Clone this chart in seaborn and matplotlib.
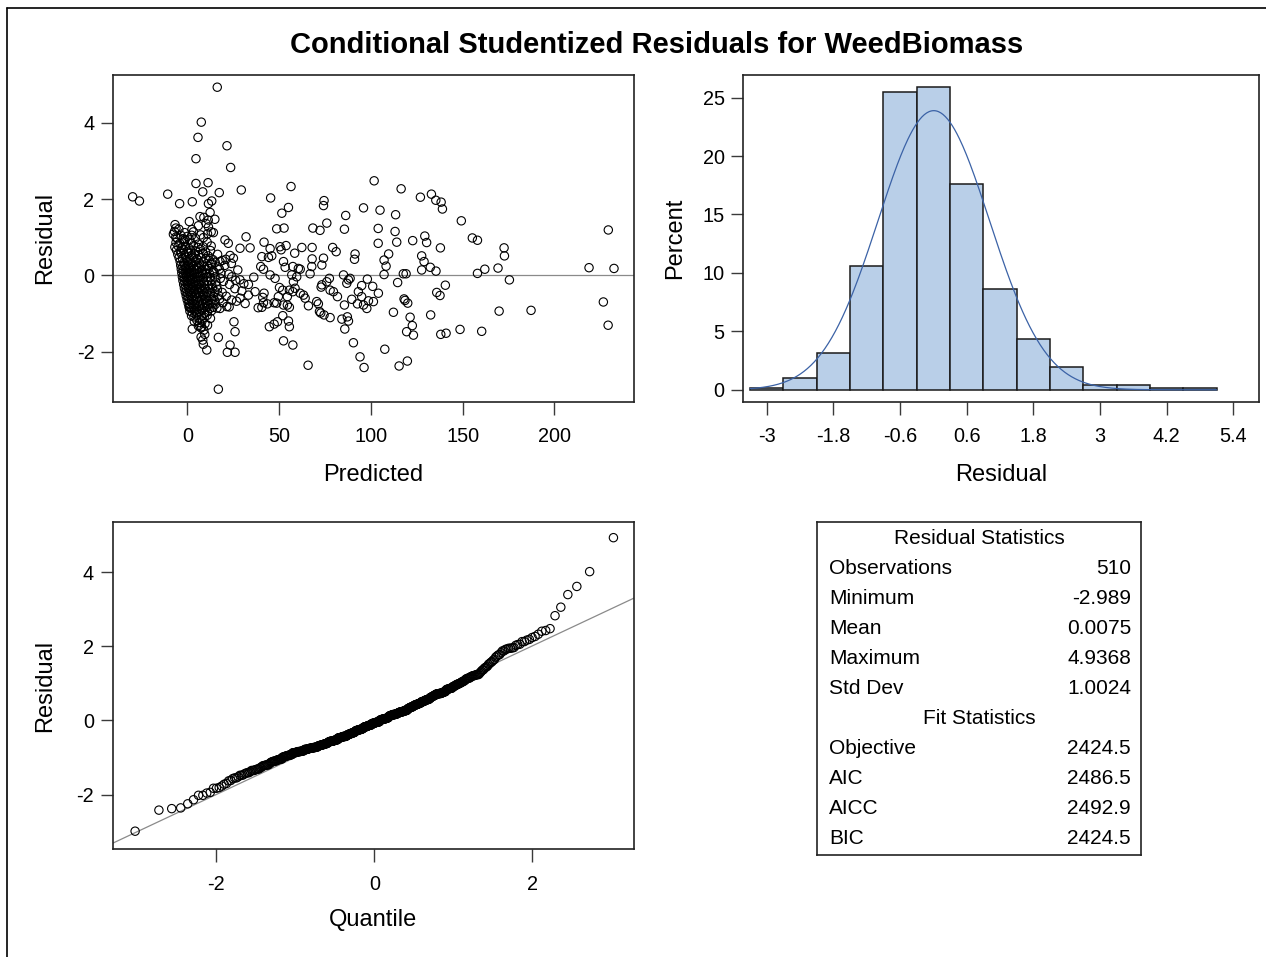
import matplotlib
matplotlib.use("Agg")
import numpy as np
import pandas as pd
import matplotlib.pyplot as plt
from matplotlib import font_manager
from matplotlib.lines import Line2D
import seaborn as sns
from statistics import NormalDist

# ---------------------------------------------------------------------------
# Conditional studentized residuals: (predicted value, residual) pairs
# ---------------------------------------------------------------------------
upper_tail = [
    (16.3, 4.9368), (7.6, 4.02), (5.8, 3.62), (21.6, 3.40), (4.7, 3.06), (23.6, 2.83),
    (4.7, 2.41), (11.3, 2.43), (8.4, 2.19), (17.4, 2.17), (29.4, 2.24), (-10.7, 2.13),
    (56.5, 2.33), (101.8, 2.48), (116.5, 2.27), (133.0, 2.13),
    (-29.8, 2.06), (-26.1, 1.95), (-4.2, 1.88), (2.7, 1.93), (11.5, 1.88), (13.3, 1.95),
    (45.4, 2.03), (12.4, 1.65), (6.9, 1.54), (74.5, 1.96), (74.2, 1.83), (55.1, 1.78),
    (51.5, 1.63), (96.0, 1.77), (86.3, 1.57), (105.0, 1.71), (127.0, 2.05), (135.4, 1.97),
    (138.3, 1.92), (139.0, 1.74), (113.5, 1.59), (9.0, 1.52),
]

spread_upper = [
    (11.4, 1.45), (15.0, 1.47), (1.1, 1.41), (-6.7, 1.33), (-6.2, 1.24), (-7.6, 1.08),
    (-6.3, 1.00), (11.5, 1.27), (13.0, 1.14), (11.0, 1.09), (3.3, 1.14), (2.4, 1.05),
    (-1.2, 0.94), (20.5, 0.93), (32.0, 1.01), (48.7, 1.22), (52.7, 1.24), (68.4, 1.24),
    (72.3, 1.18), (76.0, 1.37), (85.6, 1.21), (104.0, 1.23), (113.2, 1.15), (122.8, 0.91),
    (129.4, 1.03), (149.3, 1.43), (155.3, 0.98), (158.1, 0.92), (229.4, 1.19),
    (22.3, 0.84), (28.7, 0.71), (34.2, 0.72), (23.3, 0.52), (25.1, 0.45), (13.3, 0.32),
    (17.8, 0.36), (19.0, 0.39), (21.0, 0.42), (24.0, 0.31), (41.8, 0.87), (45.1, 0.70),
    (50.5, 0.75), (51.1, 0.67), (53.8, 0.78), (62.4, 0.73), (68.0, 0.73), (79.2, 0.73),
    (81.1, 0.62), (91.4, 0.56), (91.1, 0.42), (104.0, 0.84), (40.6, 0.49), (44.2, 0.47),
    (46.0, 0.51), (58.5, 0.58), (68.0, 0.43), (74.2, 0.45), (52.4, 0.36), (114.1, 0.87),
    (130.4, 0.86), (172.6, 0.72), (172.8, 0.51), (137.9, 0.72), (127.7, 0.51), (129.0, 0.36),
    (109.7, 0.56), (107.2, 0.40),
]

cluster_upper = [
    (-7.0, 1.15), (-5.6, 0.98), (-4.6, 1.21), (-3.5, 1.05), (-2.4, 0.96), (-1.5, 1.12),
    (0.0, 1.02), (1.2, 0.93), (2.5, 1.20), (4.4, 0.97), (6.0, 1.30), (7.2, 1.06),
    (8.8, 0.99), (10.2, 1.36), (14.2, 1.12),
    (-6.2, 0.86), (-4.1, 0.84), (-1.6, 0.88), (2.2, 0.85), (6.0, 0.82), (10.8, 0.87),
    (-6.8, 0.74), (-5.0, 0.77), (-3.2, 0.72), (-1.0, 0.76), (0.9, 0.71), (3.4, 0.78),
    (5.8, 0.73), (8.6, 0.75), (13.0, 0.77),
    (-5.9, 0.66), (-3.8, 0.63), (-2.2, 0.68), (-0.2, 0.62), (1.8, 0.66), (4.4, 0.64),
    (7.1, 0.68), (9.9, 0.61), (12.6, 0.65),
    (-5.2, 0.55), (-3.3, 0.57), (-1.4, 0.53), (0.4, 0.58), (2.4, 0.52), (4.1, 0.56),
    (6.2, 0.54), (8.6, 0.57), (11.3, 0.51), (16.5, 0.55),
    (-4.5, 0.46), (-2.6, 0.43), (-0.7, 0.47), (1.2, 0.44), (3.1, 0.48), (5.2, 0.42),
    (7.5, 0.46), (10.2, 0.44), (14.0, 0.41),
    (-3.9, 0.36), (-2.0, 0.33), (0.0, 0.37), (2.0, 0.34), (4.3, 0.38), (6.6, 0.32),
    (8.9, 0.35), (12.0, 0.39), (15.2, 0.34),
]

spread_mid = [
    (24.2, -0.04), (28.7, -0.12), (33.3, -0.24), (73.3, 0.27), (40.0, 0.23), (41.5, 0.16),
    (53.3, 0.21), (45.1, 0.01), (47.8, -0.08), (57.5, 0.23), (60.5, 0.18), (61.5, 0.16),
    (56.9, 0.01), (59.6, -0.04), (57.8, -0.17), (66.9, 0.04), (67.8, 0.23), (77.4, -0.08),
    (76.0, -0.17), (85.1, 0.01), (87.8, -0.12), (88.7, -0.08), (86.9, -0.21), (98.1, -0.10),
    (73.3, -0.25), (95.0, -0.27), (101.0, -0.29), (108.3, 0.24), (107.2, 0.02), (117.7, 0.04),
    (119.2, 0.04), (114.6, -0.19), (158.1, 0.05), (162.1, 0.16), (169.3, 0.19), (175.5, -0.12),
    (218.9, 0.20), (232.5, 0.18), (132.4, 0.21), (135.5, 0.11), (127.7, 0.14), (140.6, -0.26),
]

cluster_mid = [
    (-3.6, 0.26), (-2.5, 0.24), (-1.4, 0.27), (-0.3, 0.23), (0.8, 0.25), (2.0, 0.28),
    (3.3, 0.22), (4.7, 0.26), (6.1, 0.24), (7.6, 0.27), (9.2, 0.23), (11.0, 0.25),
    (13.1, 0.28), (16.6, 0.22), (20.4, 0.26),
    (-3.3, 0.16), (-2.2, 0.13), (-1.1, 0.17), (0.0, 0.14), (1.1, 0.18), (2.3, 0.12),
    (3.6, 0.16), (5.0, 0.14), (6.5, 0.17), (8.1, 0.13), (9.8, 0.15), (11.7, 0.18),
    (14.0, 0.12), (17.5, 0.16), (27.5, 0.14),
    (-3.0, 0.06), (-1.9, 0.03), (-0.8, 0.07), (0.3, 0.04), (1.4, 0.08), (2.6, 0.02),
    (3.9, 0.06), (5.3, 0.05), (6.8, 0.07), (8.4, 0.03), (10.1, 0.06), (12.1, 0.04),
    (14.6, 0.08), (18.3, 0.05), (22.6, 0.03),
    (-2.7, -0.04), (-1.6, -0.07), (-0.5, -0.03), (0.6, -0.06), (1.7, -0.05), (2.9, -0.08),
    (4.2, -0.04), (5.6, -0.06), (7.1, -0.03), (8.7, -0.07), (10.5, -0.05), (12.5, -0.06),
    (15.1, -0.04), (18.0, -0.08), (36.2, -0.05),
    (-2.4, -0.14), (-1.3, -0.17), (-0.2, -0.13), (0.9, -0.16), (2.0, -0.12), (3.2, -0.18),
    (4.5, -0.14), (5.9, -0.16), (7.4, -0.13), (9.0, -0.17), (10.8, -0.15), (12.9, -0.14),
    (15.6, -0.18), (19.6, -0.16), (26.3, -0.13),
    (-2.0, -0.24), (-0.9, -0.27), (0.2, -0.23), (1.3, -0.26), (2.4, -0.22), (3.6, -0.28),
    (4.9, -0.25), (6.3, -0.24), (7.8, -0.27), (9.4, -0.23), (11.2, -0.26), (13.3, -0.25),
    (16.0, -0.28), (23.0, -0.24), (30.8, -0.22),
]

spread_lower = [
    (33.3, -0.52), (36.9, -0.43), (28.7, -0.60), (24.2, -0.65), (17.8, -0.87), (21.5, -0.82),
    (1.1, -0.82), (72.9, -0.31), (93.2, -0.43), (95.0, -0.56), (98.7, -0.67), (97.8, -0.87),
    (92.7, -0.75), (89.6, -0.63), (85.6, -0.78), (81.8, -0.56), (79.6, -0.43), (77.8, -0.39),
    (70.5, -0.69), (71.4, -0.75), (66.0, -0.80), (61.5, -0.47), (63.3, -0.52), (64.2, -0.60),
    (57.5, -0.43), (58.7, -0.34), (55.6, -0.39), (54.5, -0.56), (52.0, -0.39), (50.2, -0.32),
    (49.6, -0.56), (52.4, -0.78), (55.6, -0.84), (54.5, -0.78), (48.7, -0.73), (47.3, -0.72),
    (43.6, -0.75), (41.5, -0.72), (40.6, -0.84), (41.8, -0.47), (41.1, -0.58), (96.0, -0.78),
    (101.4, -0.69), (104.1, -0.47), (135.9, -0.45), (137.7, -0.53), (118.1, -0.62),
    (118.6, -0.66), (120.1, -0.73), (226.7, -0.70),
    (25.4, -1.22), (26.0, -1.48), (2.7, -1.41), (7.8, -1.35), (72.0, -0.95), (72.7, -0.99),
    (74.5, -1.04), (77.8, -1.11), (44.7, -1.35), (47.3, -1.28), (49.1, -1.22), (52.0, -1.06),
    (55.1, -1.20), (55.6, -1.35), (85.8, -1.41), (84.2, -1.15), (87.8, -1.20), (87.2, -1.09),
    (229.3, -1.31), (187.3, -0.92), (169.9, -0.94), (132.6, -1.04), (112.3, -0.97),
    (121.4, -1.10), (122.6, -1.32), (119.5, -1.48), (148.6, -1.42), (160.4, -1.47),
]

cluster_lower = [
    (-1.6, -0.34), (-0.5, -0.37), (0.6, -0.33), (1.7, -0.36), (2.8, -0.32), (4.0, -0.38),
    (5.3, -0.35), (6.7, -0.33), (8.2, -0.37), (9.8, -0.34), (11.6, -0.36), (13.6, -0.33),
    (16.4, -0.37), (25.9, -0.35),
    (-1.1, -0.44), (0.0, -0.47), (1.1, -0.43), (2.2, -0.46), (3.4, -0.42), (4.7, -0.48),
    (6.1, -0.45), (7.6, -0.43), (9.2, -0.47), (10.9, -0.44), (12.8, -0.46), (15.0, -0.42),
    (19.0, -0.45), (29.7, -0.41),
    (-0.6, -0.54), (0.5, -0.57), (1.6, -0.53), (2.8, -0.56), (4.1, -0.52), (5.5, -0.58),
    (7.0, -0.55), (8.6, -0.53), (10.3, -0.57), (12.2, -0.54), (14.3, -0.56), (17.0, -0.52),
    (21.2, -0.55),
    (-0.1, -0.64), (1.0, -0.67), (2.2, -0.63), (3.5, -0.66), (4.9, -0.62), (6.3, -0.68),
    (7.8, -0.65), (9.4, -0.63), (11.1, -0.67), (12.9, -0.64), (14.9, -0.66), (17.6, -0.62),
    (26.8, -0.68),
    (0.5, -0.74), (1.6, -0.77), (2.8, -0.73), (4.1, -0.76), (5.5, -0.72), (6.9, -0.78),
    (8.4, -0.75), (10.0, -0.73), (11.7, -0.77), (13.4, -0.74), (15.3, -0.76), (19.4, -0.72),
    (31.5, -0.74),
    (1.0, -0.84), (2.2, -0.87), (3.5, -0.83), (4.8, -0.86), (6.2, -0.82), (7.6, -0.88),
    (9.1, -0.85), (10.7, -0.83), (12.3, -0.87), (14.0, -0.84), (16.1, -0.86), (22.8, -0.83),
    (38.6, -0.85),
    (1.4, -0.94), (2.6, -0.97), (3.9, -0.93), (5.2, -0.98), (6.5, -0.95), (7.9, -0.92),
    (9.4, -0.99), (11.0, -0.96), (13.2, -0.93),
    (2.3, -1.06), (3.6, -1.09), (4.9, -1.04), (6.3, -1.12), (7.7, -1.07), (9.2, -1.10),
    (10.8, -1.05), (12.6, -1.13),
    (3.8, -1.21), (5.2, -1.18), (6.6, -1.24), (8.0, -1.20), (9.6, -1.27), (6.0, -1.33),
    (7.5, -1.38), (9.0, -1.44), (11.0, -1.31),
]

lower_tail = [
    (21.8, -2.02), (26.0, -2.02), (10.6, -1.96), (23.3, -1.83), (8.7, -1.81), (8.4, -1.70),
    (16.9, -1.63), (107.6, -1.94), (90.5, -1.77), (52.4, -1.72), (57.5, -1.83), (123.2, -1.57),
    (138.1, -1.55), (141.0, -1.52), (7.5, -1.62), (9.5, -1.55),
    (65.8, -2.36), (96.3, -2.42), (115.4, -2.38), (119.9, -2.25), (94.1, -2.14),
    (16.9, -2.989),
]

# Summary tables
residual_stat_names = ["Observations", "Minimum", "Mean", "Maximum", "Std Dev"]
residual_stat_values = ["510", "-2.989", "0.0075", "4.9368", "1.0024"]
fit_stat_names = ["Objective", "AIC", "AICC", "BIC"]
fit_stat_values = ["2424.5", "2486.5", "2492.9", "2424.5"]
resid_mean = 0.0075
resid_sd = 1.0024

# Axis ticks
pred_ticks = [0, 50, 100, 150, 200]
resid_ticks = [-2, 0, 2, 4]
hist_xticks = [-3, -1.8, -0.6, 0.6, 1.8, 3, 4.2, 5.4]
hist_xticklabels = ["-3", "-1.8", "-0.6", "0.6", "1.8", "3", "4.2", "5.4"]
hist_yticks = [0, 5, 10, 15, 20, 25]
quantile_ticks = [-2, 0, 2]

# ---------------------------------------------------------------------------
sns.set_style("ticks")
plt.rcParams["font.family"] = ["Liberation Sans", "DejaVu Sans"]
plt.rcParams["axes.unicode_minus"] = False
plt.rcParams["text.color"] = "black"
plt.rcParams["axes.labelcolor"] = "black"
plt.rcParams["xtick.labelcolor"] = "black"
plt.rcParams["ytick.labelcolor"] = "black"

# narrow bold face for the headline when available
try:
    font_manager.findfont(
        font_manager.FontProperties(family="Liberation Sans Narrow", weight="bold"),
        fallback_to_default=False)
    title_family, title_size = ["Liberation Sans Narrow", "Liberation Sans"], 25
except Exception:
    title_family, title_size = ["Liberation Sans", "DejaVu Sans"], 21

points = (upper_tail + spread_upper + cluster_upper + spread_mid + cluster_mid
          + spread_lower + cluster_lower + lower_tail)
df = pd.DataFrame(points, columns=["Predicted", "Residual"])

W, H = 1266, 957
fig = plt.figure(figsize=(W / 100, H / 100), dpi=100)
fig.patch.set_facecolor("white")


def rect(left, top, right, bottom):
    return [left / W, 1 - bottom / H, (right - left) / W, (bottom - top) / H]


FRAME = "#222222"
TICK_FS = 14.3
LABEL_FS = 17


def style_axes(ax):
    for sp in ax.spines.values():
        sp.set_visible(True)
        sp.set_color(FRAME)
        sp.set_linewidth(1.2)
    ax.tick_params(axis="both", direction="out", length=9, width=1.0,
                   color="#3a3a3a", labelsize=TICK_FS, labelcolor="black",
                   top=False, right=False)
    ax.tick_params(axis="x", pad=9.5)
    ax.tick_params(axis="y", pad=4.5)
    ax.set_facecolor("white")
    ax.grid(False)


def open_circles(ax):
    for coll in ax.collections:
        coll.set_facecolor("none")
        coll.set_edgecolor("black")
        coll.set_linewidth(0.8)


# ---- Residual vs predicted --------------------------------------------------
ax1 = fig.add_axes(rect(113.2, 75, 634, 401.5))
ax1.axhline(0, color="#8a8a8a", lw=0.9, zorder=1)
sns.scatterplot(data=df, x="Predicted", y="Residual", ax=ax1, s=36, marker="o",
                zorder=2, legend=False)
open_circles(ax1)
ax1.set_xlim(-40.4, 243.4)
ax1.set_ylim(-3.312, 5.257)
ax1.set_xticks(pred_ticks)
ax1.set_yticks(resid_ticks)
style_axes(ax1)
ax1.set_xlabel("Predicted", fontsize=LABEL_FS)
ax1.set_ylabel("Residual", fontsize=LABEL_FS)

# ---- Histogram with normal density -----------------------------------------
ax2 = fig.add_axes(rect(743.3, 75, 1259, 401.5))
sns.histplot(data=df, x="Residual", ax=ax2, binwidth=0.6, binrange=(-3.3, 5.1),
             stat="percent", color="#b9cfe8", edgecolor="#1a1a1a", linewidth=1.1,
             alpha=1.0)
xs = np.linspace(-3.3, 5.1, 400)
dens = 100 * 0.6 * np.array([NormalDist(resid_mean, resid_sd).pdf(v) for v in xs])
sns.lineplot(x=xs, y=dens, ax=ax2, color="#3b62a6", lw=0.9)
ax2.set_xlim(-3.421, 5.861)
ax2.set_ylim(-1.0, 26.93)
ax2.set_xticks(hist_xticks)
ax2.set_xticklabels(hist_xticklabels)
ax2.set_yticks(hist_yticks)
style_axes(ax2)
ax2.set_xlabel("Residual", fontsize=LABEL_FS)
ax2.set_ylabel("Percent", fontsize=LABEL_FS)

# ---- Normal quantile plot ---------------------------------------------------
sorted_res = np.sort(df["Residual"].to_numpy())
n = len(sorted_res)
std_normal = NormalDist()
quantiles = np.array([std_normal.inv_cdf((i + 1 - 0.375) / (n + 0.25)) for i in range(n)])
ax3 = fig.add_axes(rect(112.5, 522, 634, 849))
qx = np.array([-3.316, 3.29])
sns.lineplot(x=qx, y=resid_mean + resid_sd * qx, ax=ax3, color="#8a8a8a", lw=0.9)
sns.scatterplot(x=quantiles, y=sorted_res, ax=ax3, s=36, marker="o", zorder=3,
                legend=False)
open_circles(ax3)
ax3.set_xlim(-3.316, 3.29)
ax3.set_ylim(-3.47, 5.36)
ax3.set_xticks(quantile_ticks)
ax3.set_yticks(resid_ticks)
style_axes(ax3)
ax3.set_xlabel("Quantile", fontsize=LABEL_FS)
ax3.set_ylabel("Residual", fontsize=LABEL_FS)

# label placement
for ax, ylab_x, xlab_y, (l, t, r, b) in [
    (ax1, 45, 475, (113.2, 75, 634, 401.5)),
    (ax2, 675, 475, (743.3, 75, 1259, 401.5)),
    (ax3, 45, 920, (112.5, 522, 634, 849)),
]:
    ax.yaxis.label.set_va("center")
    ax.xaxis.label.set_va("center")
    ax.yaxis.set_label_coords((ylab_x - l) / (r - l), 0.5)
    ax.xaxis.set_label_coords(0.5, (b - xlab_y) / (b - t))

# ---- Statistics table -------------------------------------------------------
l, t, r, b = 817, 522, 1141, 855
ax4 = fig.add_axes(rect(l, t, r, b))
ax4.set_xticks([])
ax4.set_yticks([])
for sp in ax4.spines.values():
    sp.set_color(FRAME)
    sp.set_linewidth(1.2)


def row_y(py):
    return (b - py) / (b - t)


TABLE_FS = 15
lx = (829 - l) / (r - l)
vx = (1131 - l) / (r - l)
ax4.text(0.5, row_y(538), "Residual Statistics", ha="center", va="center",
         fontsize=TABLE_FS, transform=ax4.transAxes)
for i, (name, val) in enumerate(zip(residual_stat_names, residual_stat_values)):
    y = row_y(568 + 30 * i)
    ax4.text(lx, y, name, ha="left", va="center", fontsize=TABLE_FS, transform=ax4.transAxes)
    ax4.text(vx, y, val, ha="right", va="center", fontsize=TABLE_FS, transform=ax4.transAxes)
ax4.text(0.5, row_y(718), "Fit Statistics", ha="center", va="center",
         fontsize=TABLE_FS, transform=ax4.transAxes)
for i, (name, val) in enumerate(zip(fit_stat_names, fit_stat_values)):
    y = row_y(748 + 30 * i)
    ax4.text(lx, y, name, ha="left", va="center", fontsize=TABLE_FS, transform=ax4.transAxes)
    ax4.text(vx, y, val, ha="right", va="center", fontsize=TABLE_FS, transform=ax4.transAxes)

# ---- Title and outer frame --------------------------------------------------
fig.text(657 / W, 1 - 45 / H, "Conditional Studentized Residuals for WeedBiomass",
         ha="center", va="center", fontsize=title_size, fontweight="bold",
         family=title_family, color="black")
fig.add_artist(Line2D([7.5 / W, 7.5 / W], [0, 1 - 7.5 / H], color="black", lw=1.2))
fig.add_artist(Line2D([7.5 / W, 1], [1 - 7.5 / H, 1 - 7.5 / H], color="black", lw=1.2))

fig.savefig("out.png", dpi=100, facecolor="white")
